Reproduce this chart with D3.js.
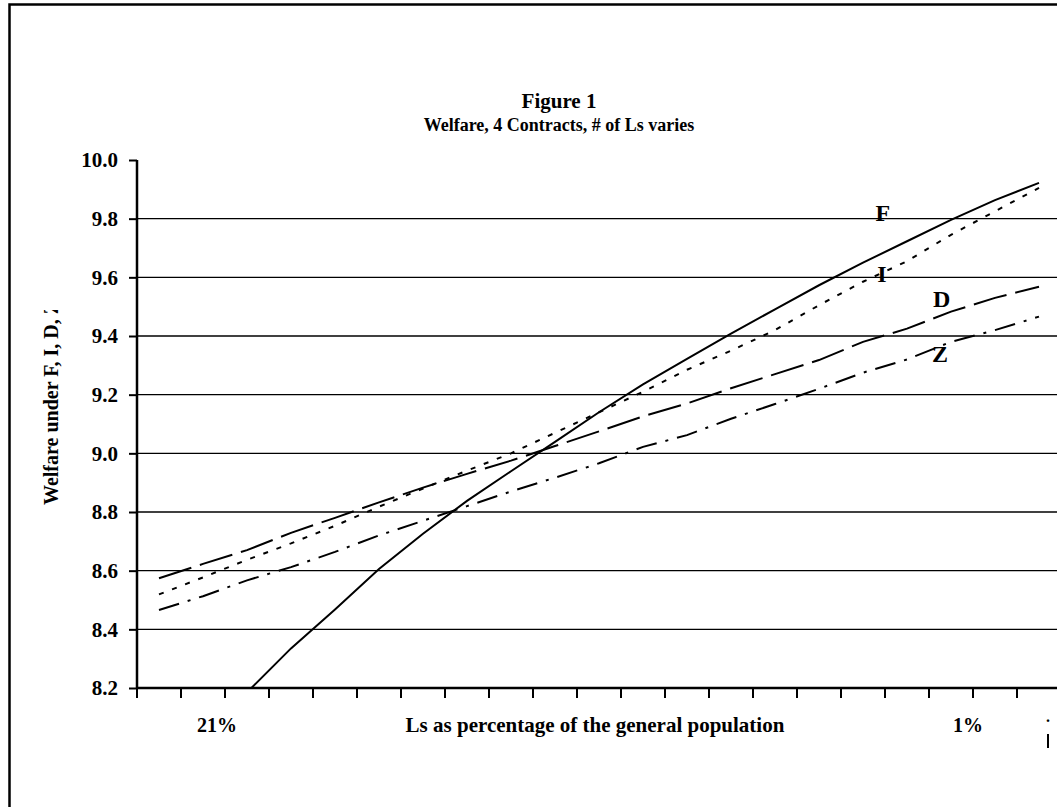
<!DOCTYPE html>
<html>
<head>
<meta charset="utf-8">
<script src="https://cdn.jsdelivr.net/npm/d3@7"></script>
<style>
  body { margin: 0; background: #fff; }
  svg { display: block; }
  text { font-family: "Liberation Serif", "Times New Roman", serif; font-weight: bold; fill: #000; }
</style>
</head>
<body>
<div id="chart"></div>
<script>
// categories: share of Ls in the population, 21% down to 1%
const categories = d3.range(21, 0, -1).map(d => d + "%");

const seriesF = [7.82, 8.01, 8.185, 8.335, 8.468, 8.606, 8.726, 8.838, 8.939, 9.039, 9.140,
  9.235, 9.322, 9.408, 9.491, 9.573, 9.650, 9.723, 9.796, 9.863, 9.922];
const seriesI = [8.519, 8.577, 8.637, 8.693, 8.753, 8.818, 8.880, 8.941, 9.000, 9.070, 9.140,
  9.210, 9.285, 9.350, 9.420, 9.505, 9.585, 9.655, 9.745, 9.825, 9.905];
const seriesD = [8.574, 8.623, 8.670, 8.729, 8.780, 8.833, 8.883, 8.930, 8.975, 9.025, 9.075,
  9.126, 9.170, 9.222, 9.270, 9.318, 9.380, 9.425, 9.483, 9.530, 9.568];
const seriesZ = [8.466, 8.513, 8.567, 8.612, 8.664, 8.720, 8.770, 8.820, 8.870, 8.917, 8.966,
  9.022, 9.062, 9.118, 9.168, 9.220, 9.275, 9.320, 9.380, 9.420, 9.466];

const seriesNames = ["F", "I", "D", "Z"];
const yTicks = [8.2, 8.4, 8.6, 8.8, 9.0, 9.2, 9.4, 9.6, 9.8, 10.0];

const width = 1057;
const height = 807;
const plot = { left: 137, right: 1061, top: 160, bottom: 688 };

const svg = d3.select("#chart")
  .append("svg")
  .attr("width", width)
  .attr("height", height);

svg.append("rect").attr("width", width).attr("height", height).attr("fill", "#fff");

// outer chart frame (runs past the right and bottom edges)
svg.append("rect")
  .attr("x", 9.5).attr("y", 4.5)
  .attr("width", 1100).attr("height", 900)
  .attr("fill", "none").attr("stroke", "#000").attr("stroke-width", 2.5);

svg.append("text")
  .attr("x", 559).attr("y", 108)
  .attr("text-anchor", "middle")
  .style("font-size", "21px")
  .text("Figure 1");

svg.append("text")
  .attr("x", 559).attr("y", 131)
  .attr("text-anchor", "middle")
  .style("font-size", "18px")
  .text("Welfare, 4 Contracts, # of Ls varies");

const x = d3.scaleBand()
  .domain(categories)
  .range([plot.left, plot.right]);

const xc = i => x(categories[i]) + x.bandwidth() / 2;

const y = d3.scaleLinear()
  .domain([8.2, 10.0])
  .range([plot.bottom, plot.top]);

// gridlines
svg.append("g")
  .selectAll("line")
  .data(yTicks.filter(v => v > 8.2 && v < 10.0))
  .join("line")
  .attr("x1", plot.left).attr("x2", plot.right)
  .attr("y1", d => y(d)).attr("y2", d => y(d))
  .attr("stroke", "#000").attr("stroke-width", 1.3);

svg.append("clipPath").attr("id", "plotClip")
  .append("rect")
  .attr("x", plot.left).attr("y", plot.top - 5)
  .attr("width", plot.right - plot.left).attr("height", plot.bottom - plot.top + 5);

const styles = {
  F: null,
  I: "5,9",
  D: "34,9",
  Z: "21,9,3,9"
};

const line = d3.line()
  .x((d, i) => xc(i))
  .y(d => y(d));

const allSeries = [seriesF, seriesI, seriesD, seriesZ];

svg.append("g")
  .attr("clip-path", "url(#plotClip)")
  .selectAll("path")
  .data(allSeries)
  .join("path")
  .attr("fill", "none")
  .attr("stroke", "#000")
  .attr("stroke-width", 2)
  .attr("stroke-dasharray", (d, i) => styles[seriesNames[i]])
  .attr("d", line);

// series labels, placed near the right end of each curve
const labelAnchors = { F: [16.45, 9.819], I: [16.43, 9.614], D: [17.79, 9.529], Z: [17.75, 9.341] };
const xIdx = d3.scaleLinear().domain([0, categories.length - 1]).range([xc(0), xc(categories.length - 1)]);

svg.append("g")
  .selectAll("text")
  .data(seriesNames)
  .join("text")
  .attr("x", d => xIdx(labelAnchors[d][0]))
  .attr("y", d => y(labelAnchors[d][1]))
  .attr("dy", "0.35em")
  .attr("text-anchor", "middle")
  .style("font-size", "24px")
  .text(d => d);

// y axis
const yAxis = svg.append("g")
  .attr("transform", `translate(${plot.left},0)`)
  .call(d3.axisLeft(y).tickValues(yTicks).tickFormat(d3.format(".1f")).tickSize(8).tickPadding(11));
yAxis.select(".domain").attr("stroke-width", 2.5).attr("d", `M0,${plot.top}V${plot.bottom}`);
yAxis.selectAll(".tick line").attr("stroke-width", 2);
yAxis.selectAll(".tick text")
  .style("font-size", "21px")
  .style("font-family", "Liberation Serif, serif")
  .style("font-weight", "bold");

// x axis: ticks sit between categories
const xBounds = d3.range(categories.length + 1).map(i => plot.left + i * x.bandwidth());
const xAxis = svg.append("g");
xAxis.append("line")
  .attr("x1", plot.left - 1).attr("x2", plot.right)
  .attr("y1", plot.bottom).attr("y2", plot.bottom)
  .attr("stroke", "#000").attr("stroke-width", 2.5);
xAxis.selectAll(".xtick")
  .data(xBounds)
  .join("line")
  .attr("class", "xtick")
  .attr("x1", d => d).attr("x2", d => d)
  .attr("y1", plot.bottom).attr("y2", plot.bottom + 10)
  .attr("stroke", "#000").attr("stroke-width", 2);

// category label row, as laid out in the original
svg.append("text")
  .attr("x", xc(1) + 14).attr("y", 732)
  .attr("text-anchor", "middle")
  .style("font-size", "20px")
  .text(categories[0]);

svg.append("text")
  .attr("x", 595).attr("y", 732)
  .attr("text-anchor", "middle")
  .style("font-size", "21px")
  .text("Ls as percentage of the general population");

svg.append("text")
  .attr("x", xc(19) - 27).attr("y", 732)
  .attr("text-anchor", "middle")
  .style("font-size", "20px")
  .text(categories[categories.length - 1]);

// clipped leftovers at the right edge
svg.append("text").attr("x", 1048).attr("y", 722).attr("text-anchor", "middle").style("font-size", "16px").text(".");
svg.append("rect").attr("x", 1047).attr("y", 734).attr("width", 2).attr("height", 14).attr("fill", "#000");

// y axis title, cut off by its box in the original
svg.append("clipPath").attr("id", "yTitleClip")
  .append("rect").attr("x", 0).attr("y", 310).attr("width", 120).attr("height", 300);

svg.append("g")
  .attr("clip-path", "url(#yTitleClip)")
  .append("text")
  .attr("transform", "translate(58,505) rotate(-90)")
  .attr("text-anchor", "start")
  .style("font-size", "20px")
  .text("Welfare under F, I, D, Z");
</script>
</body>
</html>
